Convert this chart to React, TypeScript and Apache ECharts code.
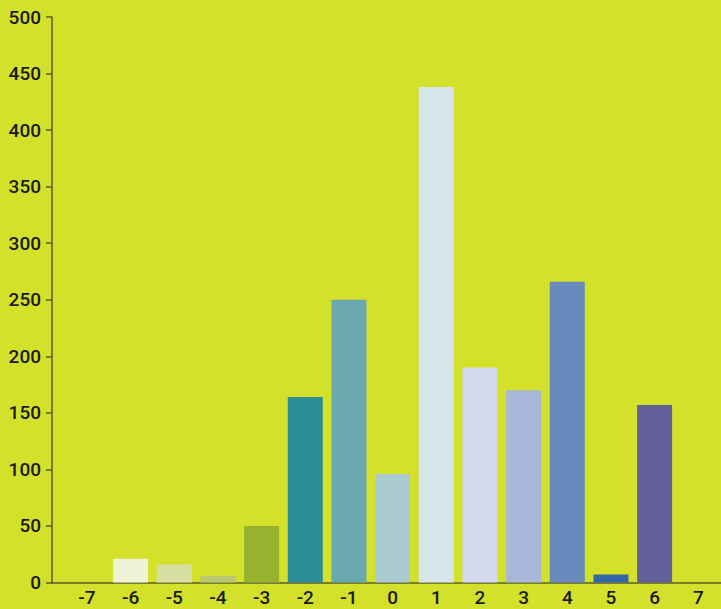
import React, { useEffect, useRef } from "react";
import * as echarts from "echarts";

const categories = [-7, -6, -5, -4, -3, -2, -1, 0, 1, 2, 3, 4, 5, 6, 7];
const values = [0, 21, 16, 6, 50, 164, 250, 96, 438, 190, 170, 266, 7, 157, 0];
const barColors = [
  "#d3e12a", "#eef3d5", "#d7dfa5", "#b9c86e", "#96b22f", "#2b8d95", "#6aa9b0",
  "#abcbd1", "#d6e5e9", "#d3d9ec", "#a8b7d9", "#6889bb", "#3366a4", "#636099", "#d3e12a",
];
const yTicks = [0, 50, 100, 150, 200, 250, 300, 350, 400, 450, 500];

export default function App() {
  const ref = useRef<HTMLDivElement>(null);
  useEffect(() => {
    if (!ref.current) return;
    const chart = echarts.init(ref.current, null, { renderer: "svg" });
    const axisColor = "#5b5b2c";
    const textStyle = { color: "#1a1a1a", fontFamily: "Roboto", fontWeight: 500, fontSize: 19 };
    chart.setOption({
      animation: false,
      backgroundColor: "#d3e12a",
      grid: { left: 52, right: 0, top: 17, bottom: 26.5, containLabel: false },
      xAxis: {
        type: "value",
        min: -7.8,
        max: 7.52,
        axisLine: { show: true, onZero: false, lineStyle: { color: axisColor, width: 1.5 } },
        axisTick: { show: false },
        splitLine: { show: false },
        axisLabel: { ...textStyle, margin: 5, customValues: categories, formatter: (v: number) => String(v) },
      },
      yAxis: {
        type: "value",
        min: 0,
        max: 500,
        interval: 50,
        axisLine: { show: true, onZero: false, lineStyle: { color: axisColor, width: 1.5 } },
        axisTick: { show: true, length: 6, lineStyle: { color: axisColor, width: 1.5 } },
        splitLine: { show: false },
        axisLabel: { ...textStyle, margin: 11, customValues: yTicks },
      },
      series: [
        {
          type: "bar",
          barWidth: 35,
          data: categories.map((c, i) => ({ value: [c, values[i]], itemStyle: { color: barColors[i] } })),
        },
      ],
    });
    return () => chart.dispose();
  }, []);
  return (
    <div
      ref={ref}
      style={{ position: "fixed", left: 0, top: 0, width: 721, height: 609 }}
    />
  );
}
